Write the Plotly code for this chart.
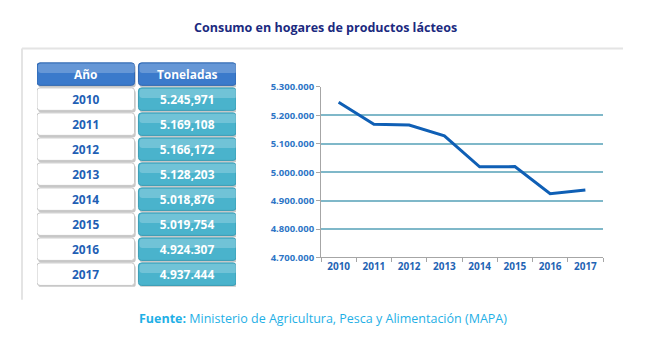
import plotly.graph_objects as go

years = ["2010", "2011", "2012", "2013", "2014", "2015", "2016", "2017"]
toneladas = [5245971, 5169108, 5166172, 5128203, 5018876, 5019754, 4924307, 4937444]
tabla_texto = ["5.245,971", "5.169,108", "5.166,172", "5.128,203",
               "5.018,876", "5.019,754", "4.924.307", "4.937.444"]
header_year = "Año"
header_val = "Toneladas"
y_ticks = [4700000, 4800000, 4900000, 5000000, 5100000, 5200000, 5300000]

W, H = 650, 355
def px(x):
    return x / W
def py(y):
    return 1 - y / H

rows = [header_year] + years
n = len(rows)
m = len(years)

BLUE_HDR = "#3b7acb"
TEAL = "#4ab3cc"
FONT = "Open Sans"
BW = 0.9

def bar(base, color, line_color=None, line_w=0, width=BW, offset=None, text=None,
        tcolor=None):
    kw = dict(
        y=rows, x=[1.0] * n, base=[base] * n, orientation="h", width=width,
        marker=dict(color=color, line=dict(color=line_color or "rgba(0,0,0,0)",
                                           width=line_w), cornerradius=3),
        xaxis="x2", yaxis="y2", hoverinfo="skip", showlegend=False,
    )
    if offset is not None:
        kw["offset"] = offset
    if text is not None:
        kw.update(text=text, textposition="inside", insidetextanchor="middle",
                  textangle=0,
                  textfont=dict(family=FONT, size=13, color=tcolor, weight="bold"))
    return go.Bar(**kw)

fig = go.Figure()
# shadows
fig.add_trace(bar(0.012, "rgba(0,0,0,0.22)", offset=-BW / 2 + 0.08))
fig.add_trace(bar(1.052, "rgba(0,0,0,0.22)", offset=-BW / 2 + 0.08))
# cells
fig.add_trace(bar(0, [BLUE_HDR] + ["#ffffff"] * m,
                  ["#2f66b0"] + ["#c6c6c6"] * m, 1))
fig.add_trace(bar(1.04, [BLUE_HDR] + [TEAL] * m,
                  ["#2f66b0"] + ["#3a9db5"] * m, 1))
# glossy highlight on top half
fig.add_trace(bar(0.01, ["rgba(255,255,255,0.22)"] + ["rgba(255,255,255,0)"] * m,
                  width=BW * 0.42, offset=-BW / 2 + 0.03))
fig.add_trace(bar(1.05, ["rgba(255,255,255,0.22)"] * n,
                  width=BW * 0.42, offset=-BW / 2 + 0.03))
# text layers
fig.add_trace(bar(0, "rgba(0,0,0,0)", text=rows,
                  tcolor=["#ffffff"] + ["#1f5fb5"] * m))
fig.add_trace(bar(1.04, "rgba(0,0,0,0)", text=[header_val] + tabla_texto,
                  tcolor="#ffffff"))

fig.add_trace(go.Scatter(
    x=years, y=toneladas, mode="lines",
    line=dict(color="#0f5fb5", width=3),
    xaxis="x", yaxis="y", showlegend=False,
))

fig.update_layout(
    width=W, height=H,
    margin=dict(l=0, r=0, t=0, b=0),
    paper_bgcolor="#ffffff", plot_bgcolor="#ffffff",
    separators=",.",
    barmode="overlay",
    font=dict(family=FONT),
    xaxis=dict(
        domain=[px(321), px(603)], type="category",
        range=[-0.5, len(years) - 0.5],
        showline=True, linecolor="#a6a6a6", linewidth=1,
        ticks="outside", ticklen=4, tickcolor="#a6a6a6", tickson="boundaries",
        showgrid=False, zeroline=False,
        tickfont=dict(family=FONT, size=10, color="#1f64b4", weight="bold"),
    ),
    yaxis=dict(
        domain=[py(260), py(83)], range=[4700000, 5300000],
        tickvals=y_ticks, tickformat=",d",
        showline=True, linecolor="#a6a6a6", linewidth=1,
        ticks="outside", ticklen=4, tickcolor="#a6a6a6",
        showgrid=True, gridcolor="#7fb8c9", gridwidth=1.5,
        zeroline=False,
        tickfont=dict(family=FONT, size=9.5, color="#2e75c6", weight="bold"),
    ),
    xaxis2=dict(
        domain=[px(37), px(236)], range=[0, 2.04],
        visible=False, fixedrange=True,
    ),
    yaxis2=dict(
        domain=[py(290.3), py(56.7)], type="category",
        categoryorder="array", categoryarray=rows,
        range=[n - 0.5, -0.5],
        visible=False, fixedrange=True,
    ),
    shapes=[
        dict(type="line", xref="paper", yref="paper",
             x0=px(22), x1=px(623), y0=py(43), y1=py(43),
             line=dict(color="#e4e4e4", width=2)),
        dict(type="line", xref="paper", yref="paper",
             x0=px(22), x1=px(22), y0=py(43), y1=py(304),
             line=dict(color="#e4e4e4", width=2)),
    ],
    annotations=[
        dict(text="<b>Consumo en hogares de productos lácteos</b>",
             xref="paper", yref="paper", x=px(325), y=py(21),
             xanchor="center", yanchor="middle", showarrow=False,
             font=dict(family=FONT, size=12.5, color="#1b2a80")),
        dict(text="<b>Fuente:</b> Ministerio de Agricultura, Pesca y Alimentación (MAPA)",
             xref="paper", yref="paper", x=px(323), y=py(323),
             xanchor="center", yanchor="middle", showarrow=False,
             font=dict(family=FONT, size=12.5, color="#1fb0e6")),
    ],
)

post = (
    "document.documentElement.style.margin='0';"
    "document.documentElement.style.overflow='hidden';"
    "document.body.style.margin='0';document.body.style.padding='0';"
    "document.body.style.overflow='hidden';"
    "var d=document.getElementById('{plot_id}');"
    "d.style.position='fixed';d.style.top='0px';d.style.left='0px';"
)

fig.write_html("out.html", config={"displayModeBar": False}, post_script=post)
